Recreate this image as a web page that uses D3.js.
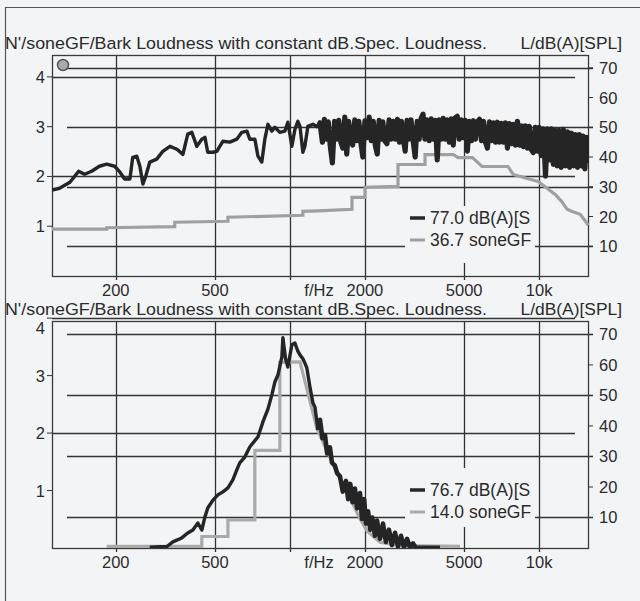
<!DOCTYPE html>
<html><head><meta charset="utf-8">
<script src="https://cdn.jsdelivr.net/npm/d3@7"></script>
<style>
body{margin:0;background:#f3f4f6;}
svg{display:block;font-family:"Liberation Sans",Arial,sans-serif;}
</style>
</head><body>
<svg id="c" width="640" height="601"></svg>
<script>
// ---------- data ----------
const xTicks = [200, 500, 1000, 2000, 5000, 10000];
const xTickLabels = ["200", "500", "", "2000", "5000", "10k"];
const leftTicks = [1, 2, 3, 4];
const rightTicks = [10, 20, 30, 40, 50, 60, 70];
const leftGrid = [2, 4];
const rightGrid = [10, 30, 50, 70];
const titleLeft = "N'/soneGF/Bark  Loudness with constant dB.Spec. Loudness.";
const titleRight = "L/dB(A)[SPL]";
const xUnit = "f/Hz";
const legendTop = ["77.0 dB(A)[S", "36.7 soneGF"];
const legendBottom = ["76.7 dB(A)[S", "14.0 soneGF"];

// top panel: level spectrum (dB, right axis)
const topLevel = [
 [111,28.9],[119,29.5],[131,31.5],[142,35.2],[150,34.2],[160,35.2],[172,36.9],[184,37.6],[198,36.9],
 [208,34.9],[217,32.6],[228,32.6],[234,39.9],[243,40.3],[250,36.9],[257,30.9],[264,33.6],[274,38.3],
 [292,39.3],[309,41.9],[330,43.6],[352,42.6],[372,40.9],[389,47.7],[404,48.3],[423,43.6],[443,46.0],
 [456,46.6],[468,41.6],[491,41.6],[509,41.9],[523,43.6],[538,45.3],[574,45.0],[612,46.0],[641,48.3],
 [672,48.7],[690,46.0],[723,46.0],[744,40.3],[771,38.3],[793,46.0],[816,51.0],[846,48.7],[870,50.0],
 [911,48.3],[954,48.7],[981,51.7],[1018,43.6],[1047,49.3],[1076,52.0],[1097,50.3],[1127,41.6],
 [1148,43.6],[1180,50.3],[1237,51.0],[1295,50.0],
 [1320,51.5],[1350,45],[1375,52.7],[1400,46],[1425,51.8],[1450,44],[1480,38],[1510,52],[1540,46],
 [1570,52.3],[1600,45],[1630,43],[1660,53.4],[1690,41],[1720,52],[1750,46],[1785,44],[1820,52.5],
 [1855,45.5],[1890,52],[1925,45],[1960,40],[2000,52.2],[2040,46.5],[2080,53.4],[2120,45.5],[2160,52],
 [2200,44],[2240,41],[2280,52.3],[2320,46],[2360,51.8],[2400,45.5],[2450,44.5],[2500,52.5],[2550,46],
 [2600,52],[2650,46],[2700,52.7],[2750,45],[2800,52],[2850,46],[2900,42],[2950,52.3],[3000,46],
 [3060,52.5],[3120,45.5],[3180,40],[3240,52],[3300,46],[3360,53],[3420,54.4],[3480,46],[3550,52.5],
 [3620,45.5],[3690,52.8],[3760,46],[3830,52.3],[3900,39],[3970,52.5],[4040,46],[4120,53],[4200,46],
 [4280,52.5],[4360,45],[4440,52.8],[4520,44],[4600,53.2],[4690,53.7],[4780,46],[4870,52.5],[4960,46.5],
 [5050,52.3],[5150,42],[5250,52],[5350,45.5],[5450,52.2],[5550,46],[5650,51.8],[5760,52.7],[5870,45.5],
 [5980,52],[6090,45],[6200,43],[6320,51.8],[6440,45.5],[6560,51.5],[6680,45],[6800,51.7],[6930,45],
 [7060,51.3],[7190,45],[7320,51.5],[7460,43],[7600,51.2],[7740,44.5],[7880,51],[8030,44],[8180,52],
 [8330,44],[8480,50.5],[8640,43.5],[8800,50.5],[8960,43],[9130,50.3],[9300,42.5],[9470,41.5],[9650,50],
 [9830,42],[10000,50],[10200,40.5],[10400,49.5],[10600,33.6],[10800,49.5],[11000,39],[11200,49.5],
 [11400,37.5],[11600,49],[11800,37],[12000,49],[12250,36.5],[12500,49.3],[12750,37],[13000,48.5],
 [13250,36.5],[13500,48],[13750,37],[14000,47.5],[14250,36.5],[14500,47.5],[14750,37],[15000,47],
 [15250,36],[15500,46.6],[15700,38]
];
// top panel: specific loudness (sone/Bark, left axis)
const topLoud = [
 [111,0.94],[184,0.94],[184,0.97],[345,0.99],[345,1.08],[564,1.1],[564,1.18],[1127,1.22],[1127,1.3],
 [1300,1.31],[1774,1.34],[1774,1.58],[2000,1.58],[2000,1.78],[2714,1.8],[2714,2.24],[3484,2.24],
 [3484,2.44],[4530,2.44],[4720,2.38],[5400,2.38],[5900,2.2],[7500,2.2],[7860,2.04],[8950,1.96],
 [9900,1.9],[10400,1.82],[11590,1.64],[12300,1.5],[12950,1.34],[13500,1.3],[14600,1.24],[15450,1.08],
 [15700,1.02]
];
// bottom panel: level spectrum (dB, right axis)
const bottomLevel = [
 [274,0.3],[321,0.5],[339,2],[368,3.3],[389,4.9],[408,5.9],[427,8.2],[443,5.9],[456,10.2],[468,13.1],
 [491,15.7],[514,17.4],[538,18.4],[564,19.7],[590,22.3],[612,25.6],[629,27.9],[659,29.8],[690,33.1],
 [710,34.4],[744,36.4],[779,41.3],[816,45.5],[846,50.2],[870,54.4],[895,56.7],[928,62.6],[937,68.9],
 [960,62],[981,59.3],[1018,66.6],[1047,67.2],[1076,64.5],[1097,63.3],[1127,62],[1148,60.6],[1169,59],
 [1203,52.8],[1237,47.5],[1260,46.2],[1295,38.7],[1320,42],[1350,36],[1382,37],[1410,31],[1447,33],
 [1474,28],[1515,27],[1545,24.6],[1587,23.5],[1630,18.5],[1678,22],[1712,16],[1747,21],[1782,15],
 [1823,19.5],[1860,13],[1910,18],[1946,9.5],[1985,16],[2019,8],[2058,12],[2100,6],[2140,10],[2194,4],
 [2236,9],[2298,3],[2362,8],[2426,2],[2497,6],[2566,1],[2640,5],[2714,0.5],[2790,4],[2868,0.3],
 [2950,3],[3030,0.2],[3118,1.5],[3200,0.1],[4000,0.1]
];
// bottom panel: specific loudness (sone/Bark, left axis)
const bottomLoud = [
 [184,0.03],[443,0.03],[443,0.2],[564,0.2],[564,0.49],[723,0.49],[723,1.7],[911,1.7],[911,3.23],
 [1097,3.24],[1283,2.08],[1410,1.68],[1587,1.2],[1747,0.86],[1910,0.51],[2042,0.29],[2298,0.1],
 [2764,0.04],[4815,0.03]
];
// frequency above which the printed trace is a dense band
const denseFrom = 1295;

// ---------- drawing ----------
const svg = d3.select("#c");
const ink = "#2b2b2b", grid = "#333", bg = "#f3f4f6";
const X0 = 52, X1 = 588;
const x = d3.scaleLog().domain([111, 15700]).range([X0, X1]);

svg.append("rect").attr("x",0).attr("y",0).attr("width",640).attr("height",601).attr("fill",bg);
svg.append("path").attr("d","M5.5,640V7.5H640").attr("fill","none").attr("stroke","#555").attr("stroke-width",1.2);

function panel(cfg){
  const g = svg.append("g");
  const yL = d3.scaleLinear().domain([0, cfg.leftMax]).range([cfg.y1, cfg.y0]);
  const yR = d3.scaleLinear().domain([0, cfg.rightMax]).range([cfg.y1, cfg.y0]);
  // titles
  g.append("text").attr("x",5).attr("y",cfg.y0-6).attr("font-size",17.4).attr("fill",ink)
    .attr("textLength",482).attr("lengthAdjust","spacingAndGlyphs").text(titleLeft);
  g.append("text").attr("x",622).attr("y",cfg.y0-6).attr("font-size",17.4).attr("fill",ink)
    .attr("text-anchor","end").text(titleRight);
  // vertical grid
  g.selectAll(".vg").data(xTicks).join("line")
    .attr("x1",d=>Math.round(x(d))+0.5).attr("x2",d=>Math.round(x(d))+0.5)
    .attr("y1",cfg.y0).attr("y2",cfg.y1+4).attr("stroke",grid).attr("stroke-width",1.3);
  // horizontal grid (left axis: from left edge; right axis: to right edge)
  g.selectAll(".lg").data(leftGrid).join("line")
    .attr("x1",X0).attr("x2",575).attr("y1",d=>Math.round(yL(d))+0.5).attr("y2",d=>Math.round(yL(d))+0.5)
    .attr("stroke",grid).attr("stroke-width",1.3);
  g.selectAll(".rg").data(rightGrid).join("line")
    .attr("x1",67).attr("x2",X1+5).attr("y1",d=>Math.round(yR(d))+0.5).attr("y2",d=>Math.round(yR(d))+0.5)
    .attr("stroke",grid).attr("stroke-width",1.3);
  // ticks
  g.selectAll(".lt").data(leftTicks).join("line")
    .attr("x1",X0-5).attr("x2",X0).attr("y1",d=>yL(d)).attr("y2",d=>yL(d)).attr("stroke",grid);
  g.selectAll(".rt").data(rightTicks).join("line")
    .attr("x1",X1).attr("x2",X1+5).attr("y1",d=>yR(d)).attr("y2",d=>yR(d)).attr("stroke",grid);
  // frame
  g.append("rect").attr("x",X0+0.5).attr("y",cfg.y0+0.5).attr("width",X1-X0).attr("height",cfg.y1-cfg.y0)
    .attr("fill","none").attr("stroke","#3a3a3a").attr("stroke-width",1.3);
  // tick labels
  g.selectAll(".ll").data(leftTicks).join("text")
    .attr("x",45).attr("y",d=>Math.max(yL(d), cfg.y0+7)+6).attr("text-anchor","end")
    .attr("font-size",16.5).attr("fill",ink).text(d=>d);
  g.selectAll(".rl").data(rightTicks).join("text")
    .attr("x",599).attr("y",d=>yR(d)+6).attr("font-size",16.5).attr("fill",ink).text(d=>d);
  g.selectAll(".xl").data(xTicks).join("text")
    .attr("x",d=>x(d)).attr("y",cfg.y1+20).attr("text-anchor","middle")
    .attr("font-size",16.5).attr("fill",ink).text((d,i)=>xTickLabels[i]);
  g.append("text").attr("x",319).attr("y",cfg.y1+20).attr("text-anchor","middle")
    .attr("font-size",16.5).attr("fill",ink).text(xUnit);
  // circle marker
  if (cfg.marker) {
    g.append("circle").attr("cx",63).attr("cy",cfg.y0+10).attr("r",5.5)
      .attr("fill","#ababab").attr("stroke","#555").attr("stroke-width",1.5);
  }
  // legend box (hides grid)
  g.append("rect").attr("x",405).attr("y",cfg.boxY0).attr("width",130).attr("height",cfg.boxY1-cfg.boxY0).attr("fill",bg);
  // series
  const clipId = "clip"+cfg.id;
  svg.append("clipPath").attr("id",clipId).append("rect")
    .attr("x",X0).attr("y",cfg.y0).attr("width",X1-X0+1).attr("height",cfg.y1-cfg.y0);
  const lineL = d3.line().x(d=>x(d[0])).y(d=>yL(d[1]));
  const lineR = d3.line().x(d=>x(d[0])).y(d=>yR(d[1]));
  g.append("path").datum(cfg.loud).attr("d",lineL).attr("fill","none")
    .attr("stroke",cfg.grayCol).attr("stroke-width",3.2).attr("stroke-linejoin","miter").attr("clip-path",`url(#${clipId})`);
  const sparse = cfg.level.filter(d=>d[0] <= denseFrom);
  const dense = cfg.level.filter(d=>d[0] >= denseFrom);
  g.append("path").datum(sparse).attr("d",lineR).attr("fill","none")
    .attr("stroke","#252525").attr("stroke-width",3.4).attr("stroke-linejoin","round").attr("clip-path",`url(#${clipId})`);
  g.append("path").datum(dense).attr("d",lineR).attr("fill","none")
    .attr("stroke","#252525").attr("stroke-width",cfg.denseW).attr("stroke-linejoin","round").attr("clip-path",`url(#${clipId})`);
  // legend
  const ly = [cfg.legY, cfg.legY+22];
  g.append("line").attr("x1",410).attr("x2",425).attr("y1",ly[0]).attr("y2",ly[0]).attr("stroke","#262626").attr("stroke-width",3.5);
  g.append("line").attr("x1",410).attr("x2",425).attr("y1",ly[1]).attr("y2",ly[1]).attr("stroke",cfg.grayCol).attr("stroke-width",3);
  g.selectAll(".lgt").data(cfg.legend).join("text")
    .attr("x",430).attr("y",(d,i)=>ly[i]+6).attr("font-size",17.5).attr("fill",ink).text(d=>d);
}

panel({id:1, y0:55, y1:276, leftMax:4.44, rightMax:74.3, level:topLevel, loud:topLoud, denseW:5.2,
       legend:legendTop, legY:218, boxY0:206, boxY1:263, marker:true, grayCol:"#a0a0a0"});
panel({id:2, y0:321, y1:548, leftMax:3.95, rightMax:74.4, level:bottomLevel, loud:bottomLoud, denseW:4.6,
       legend:legendBottom, legY:490, boxY0:468, boxY1:527, marker:false, grayCol:"#aaaaaa"});
</script>
</body></html>
